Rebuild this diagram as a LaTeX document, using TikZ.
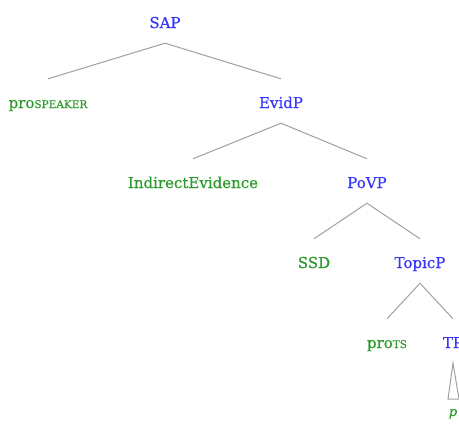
\documentclass[tikz,border=0pt]{standalone}
\usepackage{fontspec}
\setmainfont{DejaVu Serif}[UprightFeatures={FakeBold=0.6}, ItalicFeatures={FakeBold=0.6}]
\definecolor{catblue}{RGB}{55,55,250}
\definecolor{leafgreen}{RGB}{44,155,44}
\definecolor{branchgray}{RGB}{160,160,160}
\newcommand{\smc}[1]{{\fontsize{10.5}{12}\selectfont #1}}
\tikzset{
  tnode/.style={anchor=base, inner xsep=0pt, inner ysep=12pt,
    text height=17pt, text depth=3pt, font=\fontsize{15}{18}\selectfont},
  cat/.style={tnode, text=catblue},
  leaf/.style={tnode, text=leafgreen},
  branch/.style={draw=branchgray, line width=1pt}
}
\begin{document}
\begin{tikzpicture}[x=1pt,y=-1pt]
    \useasboundingbox (0,0) rectangle (459,429);
    \clip (0,0) rectangle (459,429);
    % tree nodes (position = baseline)
    \node[cat] (sap) at (165,28) {SAP};
    \node[leaf] (prospk) at (48,108) {pro\smc{SPEAKER}};
    \node[cat] (evidp) at (281,108) {EvidP};
    \node[leaf] (indev) at (193,188) {IndirectEvidence};
    \node[cat] (povp) at (367,188) {PoVP};
    \node[leaf] (ssd) at (314,268) {SSD};
    \node[cat] (topicp) at (420,268) {TopicP};
    \node[leaf] (prots) at (387,348) {pro\smc{TS}};
    \node[cat] (tp) at (453,348) {TP};
    \node[anchor=base, inner sep=0pt, text=leafgreen,
      font=\fontsize{13}{15}\selectfont\itshape] (pleaf) at (453,416) {p};
    % branches
    \draw[branch] (prospk.north) -- (sap.south) -- (evidp.north);
    \draw[branch] (indev.north) -- (evidp.south) -- (povp.north);
    \draw[branch] (ssd.north) -- (povp.south) -- (topicp.north);
    \draw[branch] (prots.north) -- (topicp.south) -- (tp.north);
    % triangle over p
    \coordinate (tl) at (448,399);
    \coordinate (tr) at (459,399);
    \draw[branch] (tp.south) -- (tl) -- (tr) -- cycle;
\end{tikzpicture}
\end{document}
